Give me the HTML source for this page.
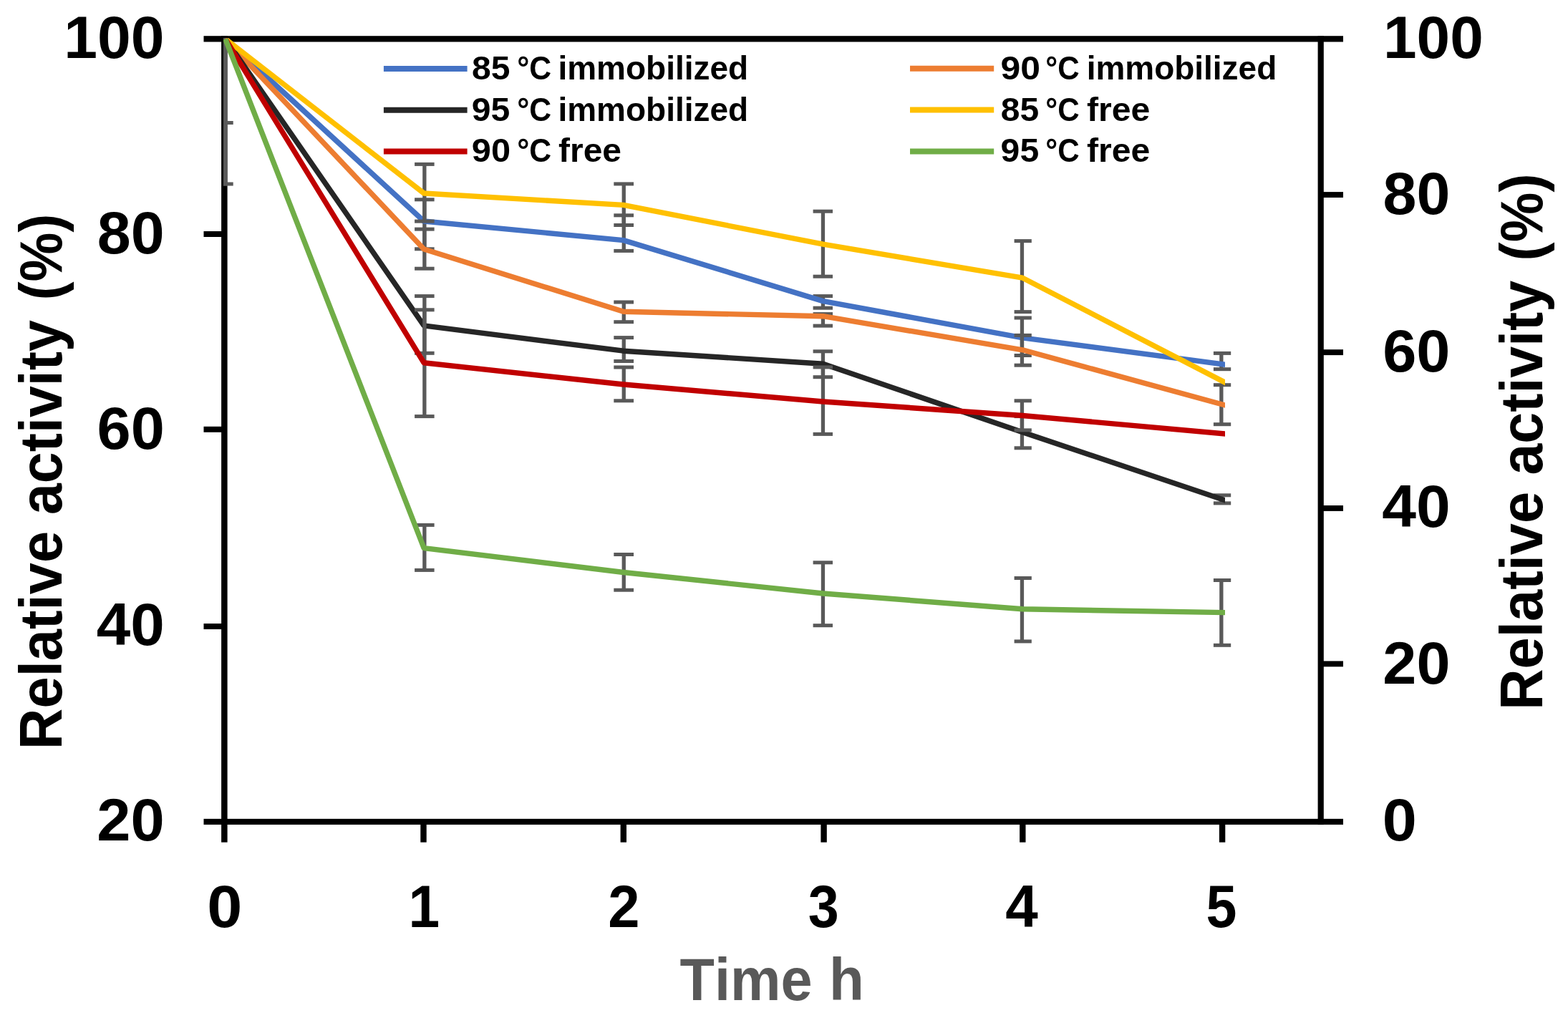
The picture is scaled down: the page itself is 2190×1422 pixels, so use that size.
<!DOCTYPE html>
<html><head><meta charset="utf-8"><title>Relative activity chart</title>
<style>html,body{margin:0;padding:0;background:#fff;}svg{display:block;}text{font-family:'Liberation Sans', Arial, sans-serif;font-weight:bold;font-kerning:none;}</style></head><body>
<svg width="2190" height="1422" viewBox="0 0 2190 1422">
<rect x="0" y="0" width="2190" height="1422" fill="#fff"/>
<defs><clipPath id="pa"><rect x="312" y="53" width="1529" height="1091"/></clipPath><clipPath id="pl"><rect x="312" y="53" width="1399" height="1091"/></clipPath></defs>
<g fill="#000">
<rect x="284.5" y="50.2" width="1591.5" height="8.3"/>
<rect x="284.5" y="1143.8" width="1591.5" height="8.1"/>
<rect x="309.1" y="50.2" width="8.5" height="1126.3999999999999"/>
<rect x="1840.6" y="50.2" width="8.2" height="1101.7"/>
<rect x="284.5" y="323.0" width="26" height="8"/>
<rect x="284.5" y="595.8" width="26" height="8"/>
<rect x="284.5" y="871.0" width="26" height="8"/>
<rect x="1846" y="268.1" width="30" height="7.9"/>
<rect x="1846" y="488.2" width="30" height="7.9"/>
<rect x="1846" y="706.0" width="30" height="7.9"/>
<rect x="1846" y="923.4" width="30" height="7.9"/>
<rect x="587.3" y="1148" width="8.4" height="28.6"/>
<rect x="866.6" y="1148" width="8.4" height="28.6"/>
<rect x="1146.4" y="1148" width="8.4" height="28.6"/>
<rect x="1424.1" y="1148" width="8.4" height="28.6"/>
<rect x="1702.9" y="1148" width="8.4" height="28.6"/>
</g>
<g clip-path="url(#pa)">
<rect x="312" y="50" width="5.2" height="209.5" fill="#595959"/>
<rect x="311" y="169.0" width="14.699999999999989" height="5.0" fill="#595959"/>
<rect x="311" y="254.5" width="14.699999999999989" height="5.0" fill="#595959"/>
<rect x="590.2" y="278.8" width="5.3" height="69.0" fill="#595959"/>
<rect x="579.1" y="276.3" width="27.5" height="5.0" fill="#595959"/>
<rect x="579.1" y="345.3" width="27.5" height="5.0" fill="#595959"/>
<rect x="868.6" y="300.8" width="5.3" height="49.6" fill="#595959"/>
<rect x="857.3" y="298.3" width="27.7" height="5.0" fill="#595959"/>
<rect x="857.3" y="347.9" width="27.7" height="5.0" fill="#595959"/>
<rect x="1146.8" y="413.6" width="5.3" height="16.6" fill="#595959"/>
<rect x="1135.6" y="411.1" width="27.4" height="5.0" fill="#595959"/>
<rect x="1135.6" y="427.7" width="27.4" height="5.0" fill="#595959"/>
<rect x="1424.8" y="444.0" width="5.3" height="52.5" fill="#595959"/>
<rect x="1416.6" y="441.5" width="24.2" height="5.0" fill="#595959"/>
<rect x="1416.6" y="494.0" width="24.2" height="5.0" fill="#595959"/>
<rect x="1703.2" y="493.4" width="5.3" height="22.3" fill="#595959"/>
<rect x="1694.9" y="490.9" width="24.3" height="5.0" fill="#595959"/>
<rect x="1694.9" y="513.2" width="24.3" height="5.0" fill="#595959"/>
<polyline clip-path="url(#pl)" points="314.8,54.4 592.1,309.0 870.8,335.6 1149.6,420.6 1428.3,471.9 1715.1,509.7" fill="none" stroke="#4472C4" stroke-width="7.4" stroke-linejoin="round" stroke-linecap="butt"/>
<rect x="590.2" y="320.1" width="5.3" height="55.1" fill="#595959"/>
<rect x="579.1" y="317.6" width="27.5" height="5.0" fill="#595959"/>
<rect x="579.1" y="372.7" width="27.5" height="5.0" fill="#595959"/>
<rect x="868.6" y="422.0" width="5.3" height="27.7" fill="#595959"/>
<rect x="857.3" y="419.5" width="27.7" height="5.0" fill="#595959"/>
<rect x="857.3" y="447.2" width="27.7" height="5.0" fill="#595959"/>
<rect x="1146.8" y="438.6" width="5.3" height="16.5" fill="#595959"/>
<rect x="1135.6" y="436.1" width="27.4" height="5.0" fill="#595959"/>
<rect x="1135.6" y="452.6" width="27.4" height="5.0" fill="#595959"/>
<rect x="1424.8" y="468.4" width="5.3" height="41.8" fill="#595959"/>
<rect x="1416.6" y="465.9" width="24.2" height="5.0" fill="#595959"/>
<rect x="1416.6" y="507.7" width="24.2" height="5.0" fill="#595959"/>
<rect x="1703.2" y="537.7" width="5.3" height="55.0" fill="#595959"/>
<rect x="1694.9" y="535.2" width="24.3" height="5.0" fill="#595959"/>
<rect x="1694.9" y="590.2" width="24.3" height="5.0" fill="#595959"/>
<polyline clip-path="url(#pl)" points="314.8,54.4 592.1,348.0 870.8,435.3 1149.6,441.7 1428.3,488.8 1715.1,567.1" fill="none" stroke="#ED7D31" stroke-width="7.4" stroke-linejoin="round" stroke-linecap="butt"/>
<rect x="590.2" y="413.6" width="5.3" height="79.7" fill="#595959"/>
<rect x="579.1" y="411.1" width="27.5" height="5.0" fill="#595959"/>
<rect x="579.1" y="490.8" width="27.5" height="5.0" fill="#595959"/>
<rect x="868.6" y="471.6" width="5.3" height="32.9" fill="#595959"/>
<rect x="857.3" y="469.1" width="27.7" height="5.0" fill="#595959"/>
<rect x="857.3" y="502.0" width="27.7" height="5.0" fill="#595959"/>
<rect x="1146.8" y="490.8" width="5.3" height="35.9" fill="#595959"/>
<rect x="1135.6" y="488.3" width="27.4" height="5.0" fill="#595959"/>
<rect x="1135.6" y="524.2" width="27.4" height="5.0" fill="#595959"/>
<rect x="1424.8" y="581.6" width="5.3" height="44.2" fill="#595959"/>
<rect x="1416.6" y="579.1" width="24.2" height="5.0" fill="#595959"/>
<rect x="1416.6" y="623.3" width="24.2" height="5.0" fill="#595959"/>
<rect x="1703.2" y="691.8" width="5.3" height="11.1" fill="#595959"/>
<rect x="1694.9" y="689.3" width="24.3" height="5.0" fill="#595959"/>
<rect x="1694.9" y="700.4" width="24.3" height="5.0" fill="#595959"/>
<polyline clip-path="url(#pl)" points="314.8,54.4 592.1,454.9 870.8,490.2 1149.6,508.3 1428.3,603.7 1715.1,700.3" fill="none" stroke="#262626" stroke-width="7.4" stroke-linejoin="round" stroke-linecap="butt"/>
<rect x="590.2" y="229.4" width="5.3" height="79.7" fill="#595959"/>
<rect x="579.1" y="226.9" width="27.5" height="5.0" fill="#595959"/>
<rect x="579.1" y="306.6" width="27.5" height="5.0" fill="#595959"/>
<rect x="868.6" y="256.9" width="5.3" height="57.6" fill="#595959"/>
<rect x="857.3" y="254.4" width="27.7" height="5.0" fill="#595959"/>
<rect x="857.3" y="312.0" width="27.7" height="5.0" fill="#595959"/>
<rect x="1146.8" y="295.2" width="5.3" height="91.0" fill="#595959"/>
<rect x="1135.6" y="292.7" width="27.4" height="5.0" fill="#595959"/>
<rect x="1135.6" y="383.7" width="27.4" height="5.0" fill="#595959"/>
<rect x="1424.8" y="336.6" width="5.3" height="99.0" fill="#595959"/>
<rect x="1416.6" y="334.1" width="24.2" height="5.0" fill="#595959"/>
<rect x="1416.6" y="433.1" width="24.2" height="5.0" fill="#595959"/>
<polyline clip-path="url(#pl)" points="314.8,54.4 592.1,270.0 870.8,286.4 1149.6,341.2 1428.3,388.2 1715.1,536.4" fill="none" stroke="#FFC000" stroke-width="7.4" stroke-linejoin="round" stroke-linecap="butt"/>
<rect x="590.2" y="432.8" width="5.3" height="148.8" fill="#595959"/>
<rect x="579.1" y="430.3" width="27.5" height="5.0" fill="#595959"/>
<rect x="579.1" y="579.1" width="27.5" height="5.0" fill="#595959"/>
<rect x="868.6" y="513.0" width="5.3" height="46.8" fill="#595959"/>
<rect x="857.3" y="510.5" width="27.7" height="5.0" fill="#595959"/>
<rect x="857.3" y="557.3" width="27.7" height="5.0" fill="#595959"/>
<rect x="1146.8" y="512.9" width="5.3" height="93.5" fill="#595959"/>
<rect x="1135.6" y="510.4" width="27.4" height="5.0" fill="#595959"/>
<rect x="1135.6" y="603.9" width="27.4" height="5.0" fill="#595959"/>
<rect x="1424.8" y="559.8" width="5.3" height="41.1" fill="#595959"/>
<rect x="1416.6" y="557.3" width="24.2" height="5.0" fill="#595959"/>
<rect x="1416.6" y="598.4" width="24.2" height="5.0" fill="#595959"/>
<polyline clip-path="url(#pl)" points="314.8,54.4 592.1,506.8 870.8,537.0 1149.6,561.0 1428.3,580.5 1715.1,606.4" fill="none" stroke="#C00000" stroke-width="7.4" stroke-linejoin="round" stroke-linecap="butt"/>
<rect x="590.2" y="733.4" width="5.3" height="63.0" fill="#595959"/>
<rect x="579.1" y="730.9" width="27.5" height="5.0" fill="#595959"/>
<rect x="579.1" y="793.9" width="27.5" height="5.0" fill="#595959"/>
<rect x="868.6" y="774.5" width="5.3" height="49.7" fill="#595959"/>
<rect x="857.3" y="772.0" width="27.7" height="5.0" fill="#595959"/>
<rect x="857.3" y="821.7" width="27.7" height="5.0" fill="#595959"/>
<rect x="1146.8" y="785.8" width="5.3" height="87.9" fill="#595959"/>
<rect x="1135.6" y="783.3" width="27.4" height="5.0" fill="#595959"/>
<rect x="1135.6" y="871.2" width="27.4" height="5.0" fill="#595959"/>
<rect x="1424.8" y="807.5" width="5.3" height="88.4" fill="#595959"/>
<rect x="1416.6" y="805.0" width="24.2" height="5.0" fill="#595959"/>
<rect x="1416.6" y="893.4" width="24.2" height="5.0" fill="#595959"/>
<rect x="1703.2" y="810.5" width="5.3" height="90.8" fill="#595959"/>
<rect x="1694.9" y="808.0" width="24.3" height="5.0" fill="#595959"/>
<rect x="1694.9" y="898.8" width="24.3" height="5.0" fill="#595959"/>
<polyline clip-path="url(#pl)" points="314.8,54.4 592.1,765.6 870.8,799.5 1149.6,829.0 1428.3,850.8 1715.1,855.7" fill="none" stroke="#70AD47" stroke-width="7.4" stroke-linejoin="round" stroke-linecap="butt"/>
</g>
<line x1="535.9" y1="96.0" x2="652.6" y2="96.0" stroke="#4472C4" stroke-width="8" stroke-linecap="butt"/>
<line x1="535.9" y1="153.7" x2="652.6" y2="153.7" stroke="#262626" stroke-width="8" stroke-linecap="butt"/>
<line x1="535.9" y1="211.6" x2="652.6" y2="211.6" stroke="#C00000" stroke-width="8" stroke-linecap="butt"/>
<line x1="1271.0" y1="95.8" x2="1388.2" y2="95.8" stroke="#ED7D31" stroke-width="8" stroke-linecap="butt"/>
<line x1="1271.0" y1="153.5" x2="1388.2" y2="153.5" stroke="#FFC000" stroke-width="8" stroke-linecap="butt"/>
<line x1="1271.0" y1="211.6" x2="1388.2" y2="211.6" stroke="#70AD47" stroke-width="8" stroke-linecap="butt"/>
<g>
<text x="658.98" y="110.50" font-size="47.00" fill="#000" textLength="53.36" lengthAdjust="spacingAndGlyphs">85</text>
<text x="722.22" y="110.50" font-size="47.00" fill="#000" textLength="47.95" lengthAdjust="spacingAndGlyphs">°C</text>
<text x="779.39" y="110.50" font-size="47.00" fill="#000" textLength="265.85" lengthAdjust="spacingAndGlyphs">immobilized</text>
</g>
<g>
<text x="658.83" y="168.50" font-size="47.00" fill="#000" textLength="53.51" lengthAdjust="spacingAndGlyphs">95</text>
<text x="722.22" y="168.50" font-size="47.00" fill="#000" textLength="47.95" lengthAdjust="spacingAndGlyphs">°C</text>
<text x="779.39" y="168.50" font-size="47.00" fill="#000" textLength="265.85" lengthAdjust="spacingAndGlyphs">immobilized</text>
</g>
<g>
<text x="658.81" y="225.70" font-size="47.00" fill="#000" textLength="54.19" lengthAdjust="spacingAndGlyphs">90</text>
<text x="722.22" y="225.70" font-size="47.00" fill="#000" textLength="47.95" lengthAdjust="spacingAndGlyphs">°C</text>
<text x="780.08" y="225.70" font-size="47.00" fill="#000" textLength="87.96" lengthAdjust="spacingAndGlyphs">free</text>
</g>
<g>
<text x="1397.57" y="110.50" font-size="47.00" fill="#000" textLength="55.47" lengthAdjust="spacingAndGlyphs">90</text>
<text x="1460.35" y="110.50" font-size="47.00" fill="#000" textLength="47.31" lengthAdjust="spacingAndGlyphs">°C</text>
<text x="1517.69" y="110.50" font-size="47.00" fill="#000" textLength="265.54" lengthAdjust="spacingAndGlyphs">immobilized</text>
</g>
<g>
<text x="1397.78" y="168.50" font-size="47.00" fill="#000" textLength="53.36" lengthAdjust="spacingAndGlyphs">85</text>
<text x="1460.35" y="168.50" font-size="47.00" fill="#000" textLength="47.31" lengthAdjust="spacingAndGlyphs">°C</text>
<text x="1518.08" y="168.50" font-size="47.00" fill="#000" textLength="88.27" lengthAdjust="spacingAndGlyphs">free</text>
</g>
<g>
<text x="1397.63" y="225.70" font-size="47.00" fill="#000" textLength="53.51" lengthAdjust="spacingAndGlyphs">95</text>
<text x="1460.35" y="225.70" font-size="47.00" fill="#000" textLength="47.31" lengthAdjust="spacingAndGlyphs">°C</text>
<text x="1518.08" y="225.70" font-size="47.00" fill="#000" textLength="88.27" lengthAdjust="spacingAndGlyphs">free</text>
</g>
<text x="89.31" y="80.70" font-size="83.60" fill="#000" textLength="140.24" lengthAdjust="spacingAndGlyphs">100</text>
<text x="135.72" y="354.00" font-size="83.60" fill="#000" textLength="93.84" lengthAdjust="spacingAndGlyphs">80</text>
<text x="135.50" y="627.40" font-size="83.60" fill="#000" textLength="94.28" lengthAdjust="spacingAndGlyphs">60</text>
<text x="134.71" y="900.80" font-size="83.60" fill="#000" textLength="95.10" lengthAdjust="spacingAndGlyphs">40</text>
<text x="135.36" y="1174.10" font-size="83.60" fill="#000" textLength="94.42" lengthAdjust="spacingAndGlyphs">20</text>
<text x="1932.03" y="80.50" font-size="83.60" fill="#000" textLength="139.71" lengthAdjust="spacingAndGlyphs">100</text>
<text x="1931.62" y="299.20" font-size="83.60" fill="#000" textLength="93.84" lengthAdjust="spacingAndGlyphs">80</text>
<text x="1931.20" y="518.50" font-size="83.60" fill="#000" textLength="94.28" lengthAdjust="spacingAndGlyphs">60</text>
<text x="1930.20" y="736.00" font-size="83.60" fill="#000" textLength="95.42" lengthAdjust="spacingAndGlyphs">40</text>
<text x="1931.37" y="955.30" font-size="83.60" fill="#000" textLength="94.10" lengthAdjust="spacingAndGlyphs">20</text>
<text x="1930.88" y="1174.10" font-size="83.60" fill="#000" textLength="48.06" lengthAdjust="spacingAndGlyphs">0</text>
<text x="289.31" y="1294.50" font-size="83.60" fill="#000" textLength="49.11" lengthAdjust="spacingAndGlyphs">0</text>
<text x="570.46" y="1294.50" font-size="83.60" fill="#000" textLength="43.62" lengthAdjust="spacingAndGlyphs">1</text>
<text x="849.24" y="1294.50" font-size="83.60" fill="#000" textLength="44.24" lengthAdjust="spacingAndGlyphs">2</text>
<text x="1128.73" y="1294.50" font-size="83.60" fill="#000" textLength="42.96" lengthAdjust="spacingAndGlyphs">3</text>
<text x="1404.36" y="1294.50" font-size="83.60" fill="#000" textLength="45.48" lengthAdjust="spacingAndGlyphs">4</text>
<text x="1684.43" y="1294.50" font-size="83.60" fill="#000" textLength="42.92" lengthAdjust="spacingAndGlyphs">5</text>
<g>
<text x="949.61" y="1396.70" font-size="83.60" fill="#595959" textLength="185.10" lengthAdjust="spacingAndGlyphs">Time</text>
<text x="1158.02" y="1396.70" font-size="83.60" fill="#595959" textLength="48.84" lengthAdjust="spacingAndGlyphs">h</text>
</g>
<g>
<text transform="translate(85.90,1046.92) rotate(-90)" x="0" y="0" font-size="83.00" fill="#000" textLength="305.04" lengthAdjust="spacingAndGlyphs">Relative</text>
<text transform="translate(85.90,719.01) rotate(-90)" x="0" y="0" font-size="83.00" fill="#000" textLength="271.94" lengthAdjust="spacingAndGlyphs">activity</text>
<text transform="translate(85.90,419.26) rotate(-90)" x="0" y="0" font-size="83.00" fill="#000" textLength="120.52" lengthAdjust="spacingAndGlyphs">(%)</text>
</g>
<g>
<text transform="translate(2154.40,991.82) rotate(-90)" x="0" y="0" font-size="83.00" fill="#000" textLength="305.04" lengthAdjust="spacingAndGlyphs">Relative</text>
<text transform="translate(2154.40,663.51) rotate(-90)" x="0" y="0" font-size="83.00" fill="#000" textLength="271.73" lengthAdjust="spacingAndGlyphs">activity</text>
<text transform="translate(2154.40,364.40) rotate(-90)" x="0" y="0" font-size="83.00" fill="#000" textLength="121.91" lengthAdjust="spacingAndGlyphs">(%)</text>
</g>
</svg></body></html>
